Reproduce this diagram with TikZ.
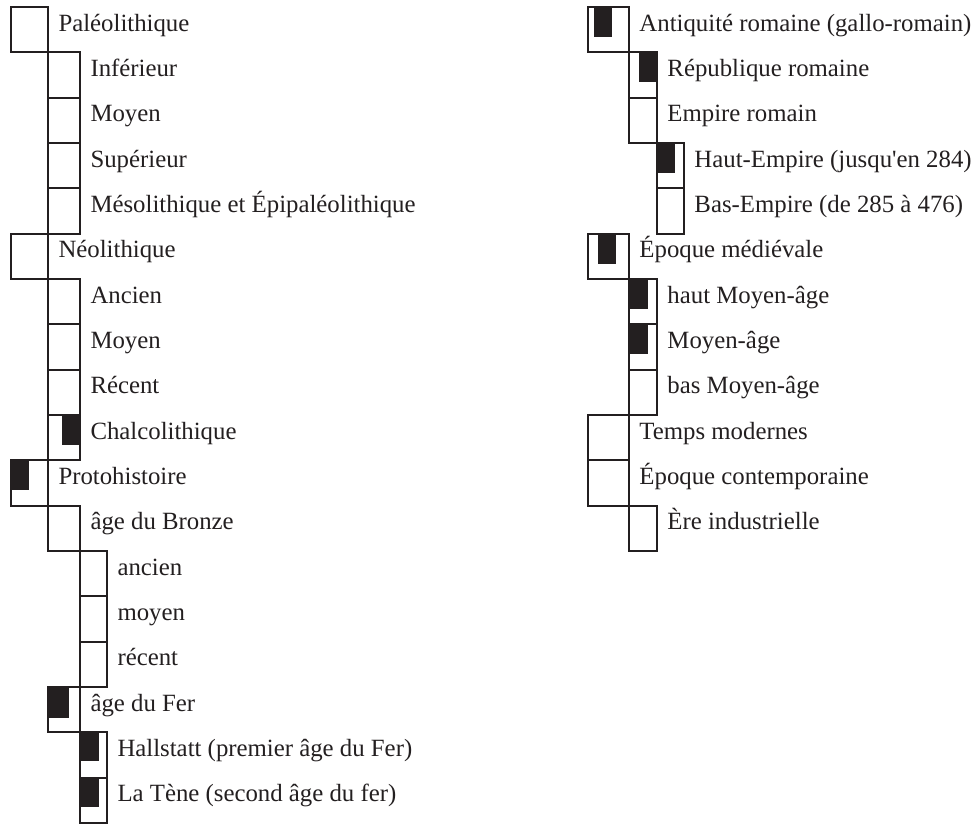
\documentclass[tikz,border=0pt]{standalone}
\usepackage{fontspec}
\setmainfont{Liberation Serif}[Ligatures=TeXOff]
\usetikzlibrary{positioning}

\definecolor{ink}{HTML}{231F20}

\tikzset{every picture/.style={line width=0.75pt}}
\tikzset{
  period/.style={draw=ink, line width=1.5pt, inner sep=0pt, outer sep=0pt, minimum height=34pt},
  lzero/.style={period, minimum width=27.75pt},
  lone/.style={period, minimum width=24pt},
  ltwo/.style={period, minimum width=20.25pt},
  rzero/.style={period, minimum width=31.1pt},
  rone/.style={period, minimum width=21pt},
  rtwo/.style={period, minimum width=20.25pt},
  lbl/.style={inner sep=0pt, text=ink, font=\fontsize{18.6}{22}\selectfont, yshift=-1pt},
  bar/.style={fill=ink}
}

\begin{document}
\begin{tikzpicture}[x=0.75pt,y=0.75pt,yscale=-1,xscale=1]
\useasboundingbox (0,0) rectangle (975,825);

%Left column: Paleolithique
\node[lzero, anchor=north west] (paleo) at (11,7) {};
\node[lone, anchor=north west] (inf) at (paleo.south east) {};
\node[lone, below=0pt of inf] (moyP) {};
\node[lone, below=0pt of moyP] (sup) {};
\node[lone, below=0pt of sup] (meso) {};
%Neolithique
\node[lzero, anchor=north west] (neo) at (paleo.south west |- meso.south) {};
\node[lone, anchor=north west] (ancN) at (neo.south east) {};
\node[lone, below=0pt of ancN] (moyN) {};
\node[lone, below=0pt of moyN] (recN) {};
\node[lone, below=0pt of recN] (chalco) {};
%Protohistoire
\node[lzero, anchor=north west] (proto) at (neo.south west |- chalco.south) {};
\node[lone, anchor=north west] (bronze) at (proto.south east) {};
\node[ltwo, anchor=north west] (bzA) at (bronze.south east) {};
\node[ltwo, below=0pt of bzA] (bzM) {};
\node[ltwo, below=0pt of bzM] (bzR) {};
\node[lone, anchor=north west] (fer) at (bronze.south west |- bzR.south) {};
\node[ltwo, anchor=north west] (hall) at (fer.south east) {};
\node[ltwo, below=0pt of hall] (tene) {};

%Right column: Antiquite
\node[rzero, anchor=north west] (anti) at (587.5,7) {};
\node[rone, anchor=north west] (rep) at (anti.south east) {};
\node[rone, below=0pt of rep] (emp) {};
\node[rtwo, anchor=north west] (haut) at (emp.south east) {};
\node[rtwo, below=0pt of haut] (bas) {};
%Epoque medievale
\node[rzero, anchor=north west] (medi) at (anti.south west |- bas.south) {};
\node[rone, anchor=north west] (hma) at (medi.south east) {};
\node[rone, below=0pt of hma] (ma) {};
\node[rone, below=0pt of ma] (bma) {};
%Temps modernes
\node[rzero, anchor=north west] (modern) at (medi.south west |- bma.south) {};
\node[rzero, below=0pt of modern] (contemp) {};
\node[rone, anchor=north west] (indus) at (contemp.south east) {};

%Bars
\fill[bar] (chalco.north west) ++(14,0) rectangle ++(18,30);
\fill[bar] (proto.north west) rectangle ++(18,30);
\fill[bar] (fer.north west) rectangle ++(21,31);
\fill[bar] (hall.north west) rectangle ++(19,29);
\fill[bar] (tene.north west) rectangle ++(19,29);
\fill[bar] (anti.north west) ++(6.5,0) rectangle ++(18,30);
\fill[bar] (rep.north west) ++(10,0) rectangle ++(18,30);
\fill[bar] (haut.north west) rectangle ++(18,30);
\fill[bar] (medi.north west) ++(10.5,0) rectangle ++(18,30);
\fill[bar] (hma.north west) rectangle ++(19,30);
\fill[bar] (ma.north west) rectangle ++(19,30);

% Text Node
\node[lbl, base right=7.5pt of paleo] (paleoT) {Paléolithique};
\node[lbl, base right=7.5pt of inf] (infT) {Inférieur};
\node[lbl, base right=7.5pt of moyP] (moyPT) {Moyen};
\node[lbl, base right=7.5pt of sup] (supT) {Supérieur};
\node[lbl, base right=7.5pt of meso] (mesoT) {Mésolithique et Épipaléolithique};
\node[lbl, base right=7.5pt of neo] (neoT) {Néolithique};
\node[lbl, base right=7.5pt of ancN] (ancNT) {Ancien};
\node[lbl, base right=7.5pt of moyN] (moyNT) {Moyen};
\node[lbl, base right=7.5pt of recN] (recNT) {Récent};
\node[lbl, base right=7.5pt of chalco] (chalcoT) {Chalcolithique};
\node[lbl, base right=7.5pt of proto] (protoT) {Protohistoire};
\node[lbl, base right=7.5pt of bronze] (bronzeT) {âge du Bronze};
\node[lbl, base right=7.5pt of bzA] (bzAT) {ancien};
\node[lbl, base right=7.5pt of bzM] (bzMT) {moyen};
\node[lbl, base right=7.5pt of bzR] (bzRT) {récent};
\node[lbl, base right=7.5pt of fer] (ferT) {âge du Fer};
\node[lbl, base right=7.5pt of hall] (hallT) {Hallstatt (premier âge du Fer)};
\node[lbl, base right=7.5pt of tene] (teneT) {La Tène (second âge du fer)};
% Text Node
\node[lbl, base right=7.5pt of anti] (antiT) {Antiquité romaine (gallo-romain)};
\node[lbl, base right=7.5pt of rep] (repT) {République romaine};
\node[lbl, base right=7.5pt of emp] (empT) {Empire romain};
\node[lbl, base right=7.5pt of haut] (hautT) {Haut-Empire (jusqu'en 284)};
\node[lbl, base right=7.5pt of bas] (basT) {Bas-Empire (de 285 à 476)};
\node[lbl, base right=7.5pt of medi] (mediT) {Époque médiévale};
\node[lbl, base right=7.5pt of hma] (hmaT) {haut Moyen-âge};
\node[lbl, base right=7.5pt of ma] (maT) {Moyen-âge};
\node[lbl, base right=7.5pt of bma] (bmaT) {bas Moyen-âge};
\node[lbl, base right=7.5pt of modern] (modernT) {Temps modernes};
\node[lbl, base right=7.5pt of contemp] (contempT) {Époque contemporaine};
\node[lbl, base right=7.5pt of indus] (indusT) {Ère industrielle};

\end{tikzpicture}
\end{document}
